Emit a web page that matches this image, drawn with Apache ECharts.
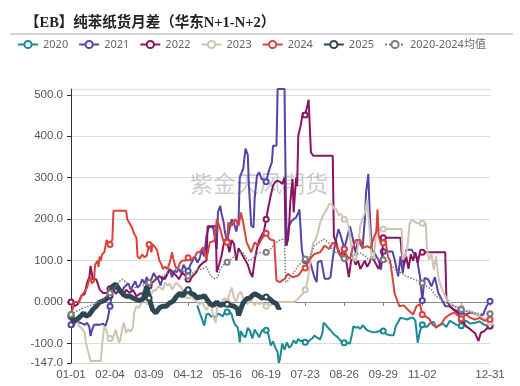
<!DOCTYPE html>
<html><head><meta charset="utf-8">
<script src="https://cdn.jsdelivr.net/npm/echarts@6/dist/echarts.min.js"></script>
<style>html,body{margin:0;padding:0;background:#fff}#c{width:520px;height:386px}</style>
</head><body><div id="c"></div>
<script>
// ---- categories: every day of a (leap) calendar year, MM-DD ----
const monthDays = [31,29,31,30,31,30,31,31,30,31,30,31];
const categories = [];
monthDays.forEach((n, m) => { for (let d = 1; d <= n; d++) categories.push(String(m+1).padStart(2,'0') + '-' + String(d).padStart(2,'0')); });

const titleText = '【EB】纯苯纸货月差（华东N+1-N+2）';
const watermark = '紫金天风期货';
const seriesNames = ['2020','2021','2022','2023','2024','2025','2020-2024均值'];

// ---- series values: [day index in categories, value] ----
const s2020 = [[110,-8],[112,-25],[114,-40],[116,-57],[118,-30],[120,-28],[122,-35],[124,-33],[126,-40],[128,-28],[130,-30],[132,-35],[134,-25],[136,-24],[138,-22],[140,-30],[141,-42],[143,-55],[145,-60],[146,-73],[147,-97],[148,-70],[150,-81],[152,-85],[154,-62],[156,-70],[158,-88],[160,-66],[162,-75],[164,-85],[166,-70],[168,-66],[170,-68],[172,-78],[174,-105],[176,-95],[178,-110],[180,-121],[181,-147],[182,-138],[184,-100],[186,-115],[188,-97],[190,-110],[192,-105],[194,-92],[196,-100],[198,-89],[200,-95],[202,-92],[204,-97],[206,-98],[208,-92],[210,-88],[212,-81],[214,-85],[217,-90],[219,-75],[220,-50],[222,-55],[224,-62],[226,-68],[228,-75],[230,-80],[232,-84],[234,-90],[236,-97],[238,-98],[240,-98],[243,-100],[245,-75],[246,-58],[248,-62],[250,-60],[252,-65],[254,-56],[256,-62],[258,-68],[260,-70],[263,-73],[266,-72],[269,-70],[272,-70],[275,-78],[278,-80],[281,-80],[283,-58],[285,-48],[287,-38],[290,-40],[293,-42],[296,-38],[298,-38],[300,-45],[302,-98],[304,-70],[306,-55],[308,-58],[310,-60],[313,-50],[316,-48],[318,-62],[321,-55],[324,-52],[327,-60],[330,-45],[333,-50],[336,-55],[340,-57],[344,-45],[348,-52],[352,-50],[356,-47],[360,-55],[365,-58]];
const s2021 = [[0,-55],[2,-60],[4,-45],[6,-48],[8,-50],[10,-52],[12,-55],[14,-50],[16,-60],[17,-82],[18,-70],[20,-55],[22,-54],[25,-55],[28,-52],[30,-58],[32,-40],[34,-10],[36,25],[38,30],[40,40],[42,25],[44,20],[46,35],[48,40],[50,45],[52,30],[54,40],[56,50],[58,35],[60,40],[62,55],[64,45],[66,60],[68,45],[70,55],[72,70],[74,60],[76,55],[78,40],[80,60],[82,55],[84,70],[86,80],[88,60],[90,75],[92,72],[94,80],[96,70],[98,90],[100,80],[102,75],[104,90],[106,100],[108,110],[110,95],[112,105],[114,125],[116,110],[118,160],[120,180],[122,182],[124,178],[125,180],[127,128],[128,216],[130,232],[131,215],[133,192],[134,170],[136,146],[138,175],[140,200],[142,190],[144,170],[146,200],[147,300],[149,315],[150,321],[152,370],[154,355],[155,280],[157,184],[159,180],[160,250],[162,305],[164,313],[166,297],[168,295],[170,290],[172,313],[174,330],[175,337],[176,377],[179,377],[180,514],[186,514],[187,281],[188,136],[190,184],[192,195],[194,200],[196,204],[198,215],[199,224],[201,130],[202,112],[204,100],[208,100],[210,80],[212,60],[214,48],[215,96],[218,100],[220,70],[221,56],[224,56],[226,60],[228,104],[230,140],[231,144],[233,176],[235,160],[237,140],[238,128],[240,150],[243,183],[245,160],[248,118],[250,150],[252,140],[254,130],[256,200],[257,263],[259,309],[260,230],[262,126],[264,120],[266,110],[268,102],[270,78],[272,122],[275,122],[280,122],[282,102],[285,62],[287,110],[289,70],[292,126],[295,126],[297,126],[299,115],[301,110],[304,62],[306,4],[308,58],[311,55],[314,38],[317,60],[320,22],[323,6],[326,-10],[330,-10],[333,-18],[336,-20],[339,-26],[340,-22],[344,-30],[348,-25],[352,-28],[356,-34],[359,-30],[362,-10],[365,2]];
const s2022 = [[0,0],[3,-10],[6,-5],[9,15],[12,20],[14,47],[16,60],[17,87],[19,55],[22,55],[25,30],[28,22],[31,22],[34,32],[36,35],[39,20],[42,30],[45,14],[48,30],[51,22],[54,30],[57,14],[60,20],[63,22],[66,30],[68,39],[71,47],[74,55],[77,63],[80,55],[83,63],[86,79],[89,71],[92,63],[94,55],[97,71],[100,63],[102,55],[104,55],[106,63],[109,71],[112,87],[115,95],[118,100],[119,183],[126,183],[127,72],[129,90],[131,110],[133,140],[135,150],[136,145],[138,120],[140,150],[142,140],[144,100],[146,130],[148,120],[150,110],[152,100],[154,90],[156,72],[158,60],[160,100],[162,130],[164,150],[166,160],[168,170],[170,200],[172,230],[174,257],[176,281],[178,290],[180,293],[182,290],[184,285],[186,300],[187,136],[189,150],[190,184],[191,240],[193,297],[194,216],[196,300],[197,280],[198,401],[200,425],[202,457],[204,451],[205,455],[207,488],[209,361],[211,353],[228,353],[229,158],[231,145],[233,120],[235,110],[237,125],[238,110],[240,95],[242,60],[244,100],[246,105],[248,90],[250,100],[252,80],[254,90],[256,100],[258,85],[260,95],[262,110],[264,100],[266,90],[268,80],[270,100],[271,110],[272,155],[287,155],[288,120],[290,90],[292,110],[294,80],[296,115],[298,100],[300,120],[302,95],[304,120],[306,120],[326,120],[327,10],[330,-10],[334,-20],[337,-26],[340,-42],[344,-58],[348,-66],[352,-75],[355,-94],[357,-74],[360,-70],[363,-62],[365,-58]];
const s2023 = [[0,-30],[2,-35],[5,-45],[7,-58],[10,-65],[12,-74],[13,-98],[15,-120],[16,-130],[17,-142],[26,-142],[27,-106],[29,-58],[31,-70],[32,-80],[33,-90],[34,-88],[35,-85],[36,-90],[38,-75],[39,-66],[40,-80],[42,-98],[43,-90],[45,-60],[46,-50],[48,-74],[50,-66],[52,-72],[54,-60],[55,-26],[57,-10],[59,-14],[61,-5],[62,0],[64,10],[66,14],[68,0],[70,20],[72,30],[74,28],[76,38],[78,34],[80,30],[82,47],[84,40],[86,45],[88,30],[90,40],[92,47],[94,40],[96,35],[98,25],[100,20],[102,15],[104,12],[106,10],[108,5],[110,0],[112,-5],[114,0],[116,-10],[118,-20],[120,-8],[122,-5],[124,-35],[126,-50],[127,-20],[128,0],[130,-10],[132,5],[134,10],[136,0],[138,20],[140,35],[142,10],[144,0],[146,20],[148,24],[150,10],[152,0],[154,-5],[156,5],[158,0],[160,-8],[162,0],[164,-5],[166,0],[168,-8],[170,-10],[172,-5],[174,-8],[176,0],[180,0],[186,0],[190,0],[194,0],[198,8],[200,15],[202,20],[204,30],[206,50],[208,88],[209,110],[211,143],[213,150],[215,168],[217,191],[219,205],[221,215],[223,225],[225,237],[227,237],[229,225],[231,225],[233,210],[235,212],[237,205],[238,200],[240,199],[242,180],[243,160],[244,135],[246,102],[248,100],[250,135],[252,185],[254,200],[256,215],[258,247],[260,180],[262,102],[264,110],[266,176],[272,176],[288,176],[289,102],[291,110],[293,130],[295,190],[297,199],[299,195],[301,190],[306,190],[309,190],[310,130],[312,102],[314,118],[316,78],[318,110],[320,60],[322,40],[325,20],[328,5],[331,-5],[334,-10],[337,-12],[340,-15],[343,-22],[346,-20],[350,-25],[354,-30],[358,-38],[362,-42],[365,-50]];
const s2024 = [[0,-34],[2,-10],[3,0],[7,0],[9,15],[12,25],[14,35],[16,55],[17,60],[18,45],[20,50],[21,90],[23,100],[24,85],[25,110],[26,100],[27,115],[29,120],[31,150],[32,150],[33,140],[34,139],[36,150],[37,220],[48,220],[49,200],[51,190],[53,180],[55,165],[57,155],[58,110],[60,105],[62,115],[64,108],[66,112],[68,139],[70,120],[71,140],[73,133],[75,125],[77,100],[79,90],[80,80],[82,85],[84,80],[86,95],[88,120],[89,105],[91,85],[93,80],[95,95],[97,100],[100,100],[102,107],[104,100],[106,105],[108,110],[110,120],[112,120],[115,132],[118,104],[121,144],[125,148],[127,200],[130,176],[133,144],[136,144],[137,192],[140,184],[143,200],[146,184],[148,216],[150,192],[153,144],[157,120],[160,144],[163,136],[166,152],[170,166],[173,152],[177,148],[179,52],[182,48],[186,56],[189,68],[193,60],[198,64],[201,76],[204,82],[208,104],[212,116],[217,120],[221,136],[225,128],[228,144],[231,136],[234,120],[236,105],[238,128],[240,112],[243,104],[245,126],[248,150],[252,150],[254,130],[258,135],[261,130],[264,158],[266,170],[267,223],[268,160],[270,140],[272,143],[274,150],[276,110],[278,100],[280,60],[282,20],[284,5],[286,-10],[290,-8],[294,-20],[298,-30],[301,-10],[304,-5],[306,-30],[309,-35],[312,-40],[315,-55],[318,-60],[322,-55],[326,-38],[330,-30],[334,-25],[338,-35],[340,-40],[344,-30],[348,-38],[352,-42],[356,-38],[360,-45],[365,-42]];
const s2025 = [[0,-34],[2,-46],[4,-44],[6,-40],[8,-35],[11,-26],[13,-34],[16,-30],[19,-18],[22,-10],[25,0],[28,3],[31,8],[34,15],[36,38],[39,43],[42,30],[45,20],[48,14],[51,14],[54,10],[57,6],[60,4],[63,8],[66,38],[68,10],[71,-18],[74,-26],[77,-14],[80,-10],[83,-10],[86,-2],[89,2],[92,14],[95,22],[97,14],[100,26],[102,30],[104,22],[107,18],[110,10],[112,12],[114,12],[116,16],[118,8],[121,-4],[124,-8],[127,0],[130,-8],[133,-5],[136,-5],[139,-8],[142,-10],[145,-16],[146,-32],[148,-16],[150,-2],[153,8],[156,10],[158,16],[160,20],[163,16],[166,10],[170,12],[173,8],[176,0],[179,-4],[181,-16],[182,-12]];
const sAvg = [[0,-30],[5,-22],[10,-15],[15,-10],[20,-5],[25,2],[30,10],[34,22],[38,35],[42,50],[45,55],[48,48],[51,40],[54,30],[57,38],[60,42],[64,40],[68,47],[72,52],[76,58],[80,63],[84,70],[88,75],[92,80],[96,78],[100,70],[102,63],[106,70],[110,78],[114,79],[118,85],[120,72],[122,62],[124,58],[126,56],[128,60],[130,80],[133,90],[136,96],[140,105],[144,115],[147,120],[150,118],[153,105],[155,100],[158,104],[161,115],[164,120],[167,118],[170,120],[173,125],[176,135],[179,144],[182,150],[186,152],[187,48],[189,52],[192,64],[195,75],[198,88],[201,95],[204,104],[208,110],[212,136],[216,144],[220,152],[224,145],[228,125],[232,118],[236,112],[238,105],[240,100],[244,110],[248,115],[252,118],[256,112],[260,100],[264,105],[268,102],[272,102],[276,98],[280,86],[284,75],[288,70],[292,62],[296,58],[300,54],[303,50],[306,46],[310,38],[314,30],[318,14],[322,8],[326,-2],[330,-6],[334,-10],[338,-16],[340,-18],[344,-22],[348,-24],[352,-26],[356,-28],[360,-28],[365,-28]];

const seriesData = [s2020, s2021, s2022, s2023, s2024, s2025, sAvg];
const colors = ['#1b8a96','#5443ab','#8a1462','#cfc3b2','#d9433b','#2e4753','#7a7a7a'];

const labelStep = 34;
const showLabel = (idx) => idx % labelStep === 0 || idx === categories.length - 1;

const chart = echarts.init(document.getElementById('c'), null, {renderer: 'canvas'});
chart.setOption({
  animation: false,
  backgroundColor: '#fff',
  title: {
    text: titleText, left: 20, top: 11,
    textStyle: {fontFamily: '"Liberation Serif","Noto Sans CJK SC",serif', fontWeight: 'bold', fontSize: 14.5, color: '#222'}
  },
  graphic: [
    {type: 'line', shape: {x1: 10, y1: 34, x2: 513, y2: 34}, style: {stroke: '#aaa', lineWidth: 1}, silent: true},
    {type: 'text', left: 190, top: 172, z: 1, silent: true,
     style: {text: watermark, fontSize: 23, fill: 'rgba(160,160,160,0.55)', fontFamily: '"Noto Sans CJK SC",sans-serif'}}
  ],
  legend: {
    data: seriesNames, left: 15, top: 37, width: 506, itemWidth: 20, itemHeight: 9, itemGap: 10, padding: [2, 2, 2, 2],
    textStyle: {fontSize: 11, color: '#666', fontFamily: '"Noto Sans","Noto Sans CJK SC",sans-serif'}
  },
  grid: {left: 71, right: 30, top: 89, bottom: 23, containLabel: false, outerBoundsMode: 'none'},
  xAxis: [
    { // labels along the bottom of the plot
      type: 'category', data: categories, boundaryGap: false, position: 'bottom',
      axisLine: {show: false, onZero: false},
      axisTick: {show: false},
      axisLabel: {interval: showLabel, margin: 6, color: '#555', fontSize: 11.5,
        formatter: (v, idx) => (idx === 340 ? '' : v)},
      splitLine: {show: false}
    },
    { // axis line with ticks crossing at zero
      type: 'category', data: categories, boundaryGap: false, position: 'bottom',
      axisLine: {show: true, onZero: true, lineStyle: {color: '#888'}},
      axisTick: {show: true, interval: showLabel, length: 4, lineStyle: {color: '#888'}},
      axisLabel: {show: false, interval: showLabel},
      splitLine: {show: false}
    }
  ],
  yAxis: {
    type: 'value', min: 'dataMin', max: 'dataMax', splitNumber: 5,
    axisLine: {show: true, lineStyle: {color: '#333'}},
    axisTick: {show: true, length: 4, lineStyle: {color: '#333'}},
    axisLabel: {color: '#555', fontSize: 11.5, showMaxLabel: false,
      formatter: (v) => (v === 0 ? '0.000' : v.toFixed(1))},
    splitLine: {show: true, lineStyle: {color: '#dcdcdc'}}
  },
  series: seriesNames.map((name, k) => ({
    name, type: 'line', data: seriesData[k], xAxisIndex: 0,
    symbol: 'emptyCircle', symbolSize: 5, showSymbol: true, showAllSymbol: 'auto',
    lineStyle: {color: colors[k], width: k === 5 ? 5 : (k === 6 ? 1.5 : 2), type: k === 6 ? 'dotted' : 'solid'},
    itemStyle: {color: colors[k], borderWidth: 1},
    z: 2 + k, emphasis: {disabled: true}
  }))
});
</script></body></html>
